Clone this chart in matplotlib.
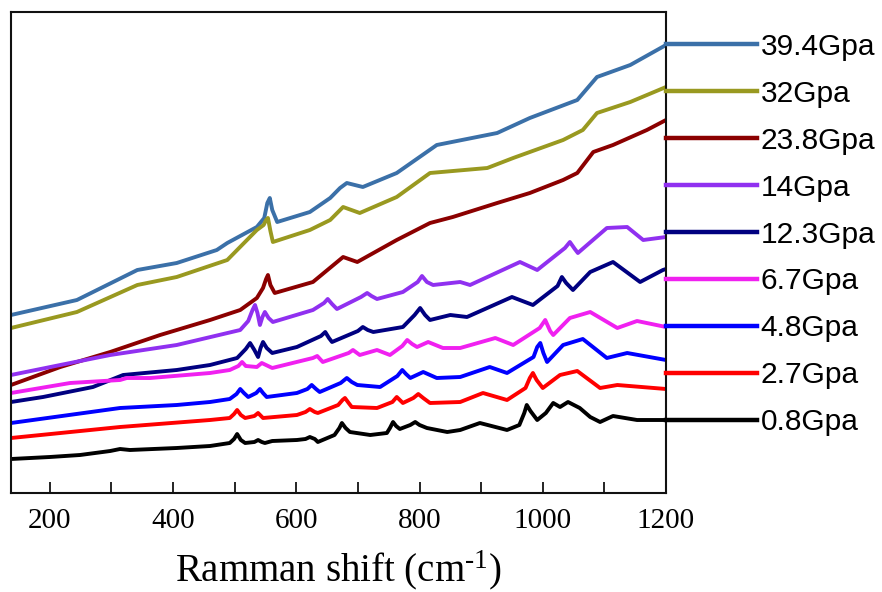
import matplotlib
matplotlib.use("Agg")
import matplotlib.pyplot as plt
from matplotlib.ticker import MultipleLocator

# ---- data (Raman shift in cm^-1, intensity in arbitrary stacked units) ----
x_08 = [137, 200, 249, 298, 314, 330, 406, 460, 492, 499, 504, 510, 517, 532, 538, 544, 549, 561, 601, 615, 622, 630, 635,
        662, 670, 674, 680, 687, 720, 747, 752, 757, 762, 768, 785, 793, 800, 812, 845, 866, 898, 942, 962, 970, 974,
        980, 991, 1005, 1017, 1028, 1041, 1060, 1077, 1093, 1114, 1153, 1200]
y_08 = [34, 36, 38, 42, 44, 43, 45, 47, 50, 54, 59, 53, 50, 51, 53, 51, 50, 52, 53, 54, 56, 54, 51,
        58, 65, 70, 65, 61, 58, 60, 65, 71, 67, 64, 68, 71, 68, 65, 61, 63, 70, 63, 68, 80, 88,
        82, 73, 80, 90, 86, 91, 85, 76, 71, 77, 73, 73]

x_27 = [137, 314, 460, 492, 499, 504, 510, 517, 532, 538, 546, 601, 615, 622, 630, 635, 668, 675, 679, 685, 690, 731,
        756, 763, 768, 773, 790, 798, 806, 817, 866, 903, 942, 972, 979, 984, 990, 1000, 1028, 1056, 1093, 1121, 1200]
y_27 = [55, 66, 73, 75, 79, 83, 78, 75, 77, 80, 75, 78, 81, 84, 81, 80, 88, 93, 95, 90, 86, 85,
        91, 96, 93, 90, 95, 99, 95, 90, 91, 100, 93, 105, 115, 120, 113, 105, 118, 122, 105, 108, 104]

x_48 = [137, 314, 406, 460, 492, 503, 509, 515, 522, 535, 541, 546, 552, 601, 618, 625, 632, 638, 672, 682, 690, 699,
        736, 764, 772, 778, 785, 806, 828, 866, 914, 942, 985, 991, 996, 1001, 1007, 1033, 1065, 1104, 1137, 1200]
y_48 = [70, 85, 88, 91, 94, 99, 104, 100, 96, 100, 104, 100, 96, 100, 104, 108, 104, 101, 110, 115, 111, 108,
        106, 117, 123, 119, 115, 121, 115, 116, 126, 120, 136, 146, 150, 140, 131, 148, 154, 135, 140, 133]

x_67 = [137, 233, 314, 325, 363, 460, 492, 506, 512, 518, 536, 544, 561, 627, 634, 643, 685, 692, 703, 731, 752, 772,
        780, 788, 796, 814, 838, 866, 923, 952, 995, 1004, 1012, 1017, 1044, 1077, 1121, 1153, 1200]
y_67 = [100, 110, 113, 115, 115, 120, 123, 127, 131, 127, 126, 130, 125, 135, 137, 131, 140, 143, 138, 143, 138, 147,
        153, 149, 146, 151, 145, 145, 155, 148, 165, 173, 162, 158, 175, 181, 165, 172, 166]

x_123 = [137, 189, 270, 319, 406, 460, 504, 518, 525, 532, 538, 542, 546, 552, 561, 601, 640, 647, 653, 658, 700, 708,
         716, 725, 773, 792, 801, 809, 817, 850, 877, 950, 984, 1024, 1031, 1038, 1049, 1077, 1114, 1158, 1195, 1200]
y_123 = [91, 96, 106, 118, 123, 128, 135, 144, 150, 143, 136, 145, 151, 145, 140, 146, 157, 161, 155, 151, 162, 166,
         163, 161, 166, 178, 185, 178, 173, 178, 176, 196, 188, 207, 216, 210, 203, 221, 231, 211, 223, 224]

x_14 = [137, 217, 298, 406, 509, 522, 529, 533, 537, 541, 545, 549, 555, 562, 627, 645, 651, 658, 666, 705, 715, 722,
        731, 773, 797, 804, 812, 822, 866, 882, 963, 991, 1036, 1044, 1052, 1057, 1104, 1137, 1163, 1200]
y_14 = [118, 128, 138, 148, 163, 172, 183, 188, 180, 168, 176, 181, 175, 171, 183, 190, 194, 189, 184, 196, 200, 197,
        194, 201, 211, 217, 211, 208, 211, 208, 231, 223, 245, 251, 244, 240, 265, 266, 253, 256]

x_238 = [137, 217, 298, 379, 460, 509, 536, 546, 551, 554, 558, 565, 627, 676, 699, 763, 817, 854, 926, 979,
         1033, 1056, 1082, 1114, 1169, 1200]
y_238 = [108, 126, 141, 158, 173, 183, 195, 205, 214, 218, 208, 200, 211, 236, 231, 253, 270, 276, 290, 300,
         313, 320, 341, 348, 363, 373]

x_32 = [137, 244, 342, 406, 488, 536, 547, 551, 554, 558, 562, 622, 655, 676, 703, 763, 817, 910, 952, 1033, 1065,
        1088, 1142, 1200]
y_32 = [165, 181, 208, 216, 233, 263, 268, 273, 275, 262, 251, 263, 273, 286, 280, 296, 320, 325, 335, 353, 363,
        380, 391, 406]

x_394 = [137, 244, 342, 406, 471, 488, 536, 548, 553, 557, 561, 569, 622, 655, 671, 682, 708, 763, 828, 926, 979,
         1056, 1088, 1142, 1200]
y_394 = [178, 193, 223, 230, 243, 250, 266, 275, 290, 295, 283, 271, 281, 295, 305, 310, 306, 320, 348, 360, 375,
         393, 416, 428, 448]

labels = ["39.4Gpa", "32Gpa", "23.8Gpa", "14Gpa", "12.3Gpa", "6.7Gpa", "4.8Gpa", "2.7Gpa", "0.8Gpa"]
colors = ["#3B70A8", "#999920", "#8B0000", "#9030F0", "#000080", "#F020F0", "#0000FF", "#FF0000", "#000000"]
xs = [x_394, x_32, x_238, x_14, x_123, x_67, x_48, x_27, x_08]
ys = [y_394, y_32, y_238, y_14, y_123, y_67, y_48, y_27, y_08]

plt.rcParams['mathtext.fontset'] = 'custom'
plt.rcParams['mathtext.rm'] = 'Liberation Serif'
plt.rcParams['mathtext.it'] = 'Liberation Serif:italic'

fig = plt.figure(figsize=(8.82, 5.92), dpi=100)
ax = fig.add_axes([11 / 882, 1 - 493 / 592, 655 / 882, 481 / 592])

handles = []
for xv, yv, c, lab in zip(xs, ys, colors, labels):
    h, = ax.plot(xv, yv, color=c, lw=2.8, label=lab, solid_joinstyle='round')
    handles.append(h)

ax.set_xlim(137, 1200)
ax.set_ylim(0, 481)
ax.xaxis.set_major_locator(MultipleLocator(200))
ax.xaxis.set_minor_locator(MultipleLocator(100))
ax.tick_params(axis='x', which='both', direction='in', length=8, width=1.2, top=False,
               labelsize=21, pad=11)
ax.tick_params(axis='y', which='both', left=False, labelleft=False)
for lab in ax.get_xticklabels():
    lab.set_family('Liberation Serif')
for s in ax.spines.values():
    s.set_linewidth(1.5)
    s.set_color('#111111')

ax.set_xlabel(r'Ramman shift (cm$^{\text{-1}}$)', fontsize=28, family='Liberation Serif', labelpad=10)

leg = ax.legend(handles=handles, loc='upper left', bbox_to_anchor=(1.0, 0.957), frameon=False,
                borderpad=0, borderaxespad=0, handlelength=3.05, handletextpad=0.12,
                labelspacing=0.635, prop={'family': 'Liberation Sans', 'size': 21.5})
for line in leg.get_lines():
    line.set_linewidth(3.2)

fig.savefig('out.png', dpi=100)
